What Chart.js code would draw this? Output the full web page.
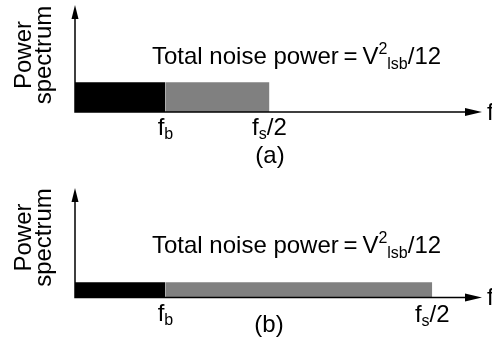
<!DOCTYPE html>
<html>
<head>
<meta charset="utf-8">
<script src="https://cdn.jsdelivr.net/npm/chart.js@4/dist/chart.umd.min.js"></script>
<style>
  html, body { margin: 0; padding: 0; background: #fff; }
  #wrap { width: 492px; height: 347px; }
  canvas { display: block; }
</style>
</head>
<body>
<div id="wrap">
  <canvas id="chartA" width="492" height="173"></canvas>
  <canvas id="chartB" width="492" height="174"></canvas>
</div>
<script>
// values (f axis in units of f_b)
const panelLabels = ['(a)', '(b)'];
const signalBand = [0, 1];          // 0 .. f_b
const nyquistEdge = [2.15, 3.95];   // f_s/2 in each panel
const noiseLevel = [1.0, 0.5];      // noise density height
const tickNames = [['f', 'b'], ['f', 's', '/2']];
const yTitle = ['Power', 'spectrum'];
const noteText = 'Total noise power';
const xMax = 4.5;
const yMax = 3.6;

const FONT = '"Liberation Sans", Arial, sans-serif';
const BIG = 24;
const SMALL = 16;

function font(size) {
    return size + 'px ' + FONT;
}

// draw a run of text pieces, each with its own size and vertical shift
function drawRich(ctx, parts, x, y, align) {
    let total = 0;
    parts.forEach(p => {
        ctx.font = font(p.size);
        p.w = ctx.measureText(p.t).width;
        total += p.w;
    });
    let cx = x;
    if (align === 'center') cx = x - total / 2;
    ctx.textAlign = 'left';
    ctx.textBaseline = 'alphabetic';
    parts.forEach(p => {
        ctx.font = font(p.size);
        ctx.fillText(p.t, cx, y + (p.dy || 0));
        cx += p.w;
    });
}

function tickParts(names) {
    const parts = [{ t: names[0], size: BIG }, { t: names[1], size: SMALL, dy: 4 }];
    if (names[2]) parts.push({ t: names[2], size: BIG });
    return parts;
}

const diagramPlugin = {
    id: 'diagram',
    afterDraw(chart, args, opts) {
        const ctx = chart.ctx;
        const xs = chart.scales.x;
        const ys = chart.scales.y;
        const x0 = xs.getPixelForValue(0);
        const y0 = ys.getPixelForValue(0);
        const xEnd = xs.getPixelForValue(xMax);
        const yTop = ys.getPixelForValue(yMax);

        ctx.save();
        ctx.strokeStyle = '#000';
        ctx.fillStyle = '#000';
        ctx.lineWidth = 1.5;
        // axes
        ctx.beginPath();
        ctx.moveTo(x0, y0);
        ctx.lineTo(xEnd - 12, y0);
        ctx.moveTo(x0, y0 + 0.75);
        ctx.lineTo(x0, yTop + 12);
        ctx.stroke();
        // arrow heads
        ctx.beginPath();
        ctx.moveTo(xEnd, y0);
        ctx.lineTo(xEnd - 17, y0 - 4);
        ctx.lineTo(xEnd - 17, y0 + 4);
        ctx.closePath();
        ctx.fill();
        ctx.beginPath();
        ctx.moveTo(x0, yTop);
        ctx.lineTo(x0 - 3.5, yTop + 14);
        ctx.lineTo(x0 + 3.5, yTop + 14);
        ctx.closePath();
        ctx.fill();

        // axis name f
        ctx.font = font(BIG);
        ctx.textAlign = 'left';
        ctx.textBaseline = 'middle';
        ctx.fillText('f', xEnd + 5, y0 + 1);

        // y title, two rotated lines
        ctx.save();
        ctx.translate(0, opts.titleY);
        ctx.rotate(-Math.PI / 2);
        ctx.textAlign = 'center';
        ctx.textBaseline = 'alphabetic';
        ctx.fillText(yTitle[0], 0, 31);
        ctx.fillText(yTitle[1], 0, 51);
        ctx.restore();

        // tick labels
        const i = opts.index;
        drawRich(ctx, tickParts(tickNames[0]), xs.getPixelForValue(signalBand[1]), y0 + opts.tickDy[0], 'center');
        drawRich(ctx, tickParts(tickNames[1]), xs.getPixelForValue(nyquistEdge[i]), y0 + opts.tickDy[1], 'center');

        // note
        drawRich(ctx, [
            { t: noteText + '\u2009=\u2009V', size: BIG },
            { t: '2', size: SMALL, dy: -10 },
            { t: 'lsb', size: SMALL, dy: 5 },
            { t: '/12', size: BIG }
        ], x0 + 77, opts.noteY, 'left');

        // panel label
        ctx.font = font(BIG);
        ctx.textAlign = 'center';
        ctx.textBaseline = 'alphabetic';
        ctx.fillText(panelLabels[i], opts.labelX, opts.labelY);
        ctx.restore();
    }
};

function makePanel(id, i, padding, opts) {
    const lvl = noiseLevel[i];
    const ctx = document.getElementById(id).getContext('2d');
    return new Chart(ctx, {
        type: 'line',
        data: {
            datasets: [{
                label: 'signal band',
                data: [{ x: signalBand[0], y: lvl }, { x: signalBand[1], y: lvl }],
                backgroundColor: '#000000',
                borderWidth: 0,
                pointRadius: 0,
                fill: 'origin'
            },
            {
                label: 'out of band',
                data: [{ x: signalBand[1], y: lvl }, { x: nyquistEdge[i], y: lvl }],
                backgroundColor: '#808080',
                borderWidth: 0,
                pointRadius: 0,
                fill: 'origin'
            }]
        },
        options: {
            responsive: false,
            animation: false,
            layout: { padding: padding },
            plugins: {
                legend: { display: false },
                tooltip: { enabled: false },
                diagram: Object.assign({ index: i }, opts)
            },
            scales: {
                x: { type: 'linear', min: 0, max: xMax, display: false },
                y: { type: 'linear', min: 0, max: yMax, display: false }
            }
        },
        plugins: [diagramPlugin]
    });
}

makePanel('chartA', 0, { left: 75, right: 10, top: 5, bottom: 61 },
    { titleY: 55, tickDy: [23, 23], noteY: 64, labelX: 270, labelY: 163 });
makePanel('chartB', 1, { left: 75, right: 10, top: 15, bottom: 49.5 },
    { titleY: 64.5, tickDy: [23, 24], noteY: 80, labelX: 269, labelY: 159 });
</script>
</body>
</html>
